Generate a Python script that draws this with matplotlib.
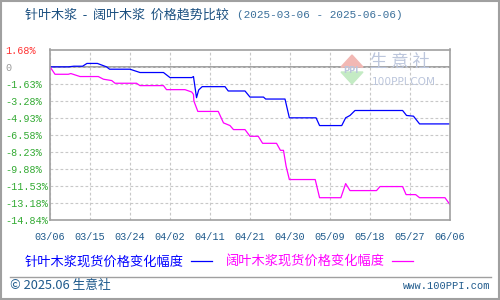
import matplotlib.pyplot as plt
from matplotlib.patches import Rectangle, Polygon
from matplotlib.lines import Line2D

plt.rcParams['font.family'] = ['Noto Sans CJK SC', 'DejaVu Sans']

# day offsets from 2025-03-06 and % change
needle_days = [0, 4.2, 5.5, 7.5, 8.5, 10.9, 13.0, 13.7, 18.4, 20.7, 26.1, 27.6, 32.6, 33.0,
               33.7, 34.2, 35.0, 40.25, 41.0, 44.85, 46.0, 49.1, 49.6, 54.05, 55.05, 61.2,
               62.0, 67.1, 68.0, 69.0, 70.15, 81.1, 82.0, 83.6, 85.0, 92.0]
needle_pct = [0, 0, 0.06, 0.06, 0.33, 0.33, 0, -0.23, -0.23, -0.55, -0.55, -1.04, -1.04, -0.94,
              -2.99, -2.24, -1.92, -1.92, -2.34, -2.34, -2.93, -2.93, -3.12, -3.12, -4.94, -4.94,
              -5.69, -5.69, -4.94, -4.71, -4.23, -4.23, -4.71, -4.78, -5.53, -5.53]

broad_days = [0, 1.15, 4.2, 4.8, 6.9, 11.1, 12.3, 14.2, 14.95, 19.9, 20.7, 26.1, 26.8, 31.05,
              32.6, 33.0, 33.1, 34.0, 38.7, 39.9, 41.4, 42.2, 44.85, 46.0, 47.9, 48.9, 52.1,
              53.0, 53.7, 54.3, 55.05, 61.0, 62.0, 66.9, 68.0, 69.0, 75.1, 75.9, 81.1, 81.9,
              84.1, 85.0, 90.85, 92.0]
broad_pct = [0, -0.72, -0.72, -0.65, -0.94, -0.94, -1.2, -1.33, -1.59, -1.59, -1.82, -1.82,
             -2.21, -2.21, -2.44, -2.67, -3.32, -4.32, -4.32, -5.43, -5.69, -6.08, -6.08, -6.73,
             -6.73, -7.41, -7.41, -8.09, -8.09, -9.62, -10.92, -10.92, -12.68, -12.68, -11.31,
             -11.99, -11.99, -11.6, -11.6, -12.38, -12.38, -12.68, -12.68, -13.36]

x_labels = ['03/06', '03/15', '03/24', '04/02', '04/11', '04/21', '04/30', '05/09',
            '05/18', '05/27', '06/06']
y_ticks = [1.68, 0, -1.63, -3.28, -4.93, -6.58, -8.23, -9.88, -11.53, -13.18, -14.84]

navy = '#1f5a8c'
mono = 'Liberation Mono'

fig = plt.figure(figsize=(5, 3), dpi=100)
ax = fig.add_axes([0.1, 1 - 220 / 300, 0.8, (220 - 49.5) / 300])

ax.plot(needle_days, needle_pct, color='#0000ff', lw=0.9, label='针叶木浆现货价格变化幅度')
ax.plot(broad_days, broad_pct, color='#ff00ff', lw=0.9, label='阔叶木浆现货价格变化幅度')
ax.axhline(0, color='#999999', lw=1.3, zorder=1)

ax.set_xlim(0, 92)
ax.set_ylim(-14.84, 1.68)
xt = [92 * i / 10 for i in range(11)]
ax.set_xticks(xt)
ax.set_xticklabels(x_labels, family=mono, fontsize=7.3, color=navy)
ax.set_yticks(y_ticks)
ylab = ['%.2f%%' % v if v != 0 else '0' for v in y_ticks]
ax.set_yticklabels(ylab, family=mono, fontsize=7.3, ha='left')
for t, v in zip(ax.get_yticklabels(), y_ticks):
    t.set_color('#ff3333' if v > 0 else ('#999999' if v == 0 else '#33aa33'))
ax.tick_params(axis='y', length=0, pad=32.4)
ax.tick_params(axis='x', length=0, pad=8.5)
ax.grid(True, color='#c8c8c8', ls=(0, (2.5, 2)), lw=0.8)
for s in ax.spines.values():
    s.set_color('#a0a0a0')
    s.set_linewidth(1.2)

# watermark
wm = '#bcc6dc'
fig.patches.append(Polygon([[341 / 500, 1 - 67 / 300], [363 / 500, 1 - 67 / 300], [352 / 500, 1 - 55 / 300]],
                           closed=True, transform=fig.transFigure, color='#f2b8b4', zorder=0.5))
fig.patches.append(Polygon([[341 / 500, 1 - 72 / 300], [363 / 500, 1 - 72 / 300], [352 / 500, 1 - 84 / 300]],
                           closed=True, transform=fig.transFigure, color='#c4ebc4', zorder=0.5))
fig.text(343 / 500, 1 - 70 / 300, 'PPI', color=wm, fontsize=6, va='center', family='DejaVu Sans', weight='bold')
fig.text(370 / 500, 1 - 62 / 300, '生 意 社', color=wm, fontsize=12.5, va='center')
fig.text(372 / 500, 1 - 82 / 300, '100PPI.COM', color=wm, fontsize=7.6, va='center', family='DejaVu Sans')

fig.text(25 / 500, 1 - 15 / 300, '针叶木浆  -  阔叶木浆  价格趋势比较', color='#1a4f80', fontsize=9.4, va='center')
fig.text(237 / 500, 1 - 15 / 300, '(2025-03-06 - 2025-06-06)', color='#3a6f9a', fontsize=7.9,
         va='center', family=mono)

leg = ax.legend(loc='center left', bbox_to_anchor=(25 / 500, 1 - 262 / 300), bbox_transform=fig.transFigure,
                ncol=2, frameon=False, markerfirst=False, labelcolor='linecolor', fontsize=9.5,
                handlelength=1.6, handletextpad=0.55, columnspacing=1.0, borderpad=0, borderaxespad=0)
for h in leg.get_lines():
    h.set_linewidth(0.9)

fig.add_artist(Line2D([10 / 500, 491 / 500], [1 - 277 / 300] * 2, color='#a0a0a0', lw=1,
                      transform=fig.transFigure))
fig.text(10 / 500, 1 - 286 / 300, '© 2025.06 生意社', color=navy, fontsize=9.2, va='center')
fig.text(490 / 500, 1 - 286 / 300, 'www.100PPI.com', color=navy, fontsize=7.5, va='center', ha='right',
         family=mono)
fig.patches.append(Rectangle((0.001, 0.002), 0.997, 0.995, transform=fig.transFigure, fill=False,
                             edgecolor='#a0a0a0', lw=1.5))

fig.savefig('out.png', dpi=100)
